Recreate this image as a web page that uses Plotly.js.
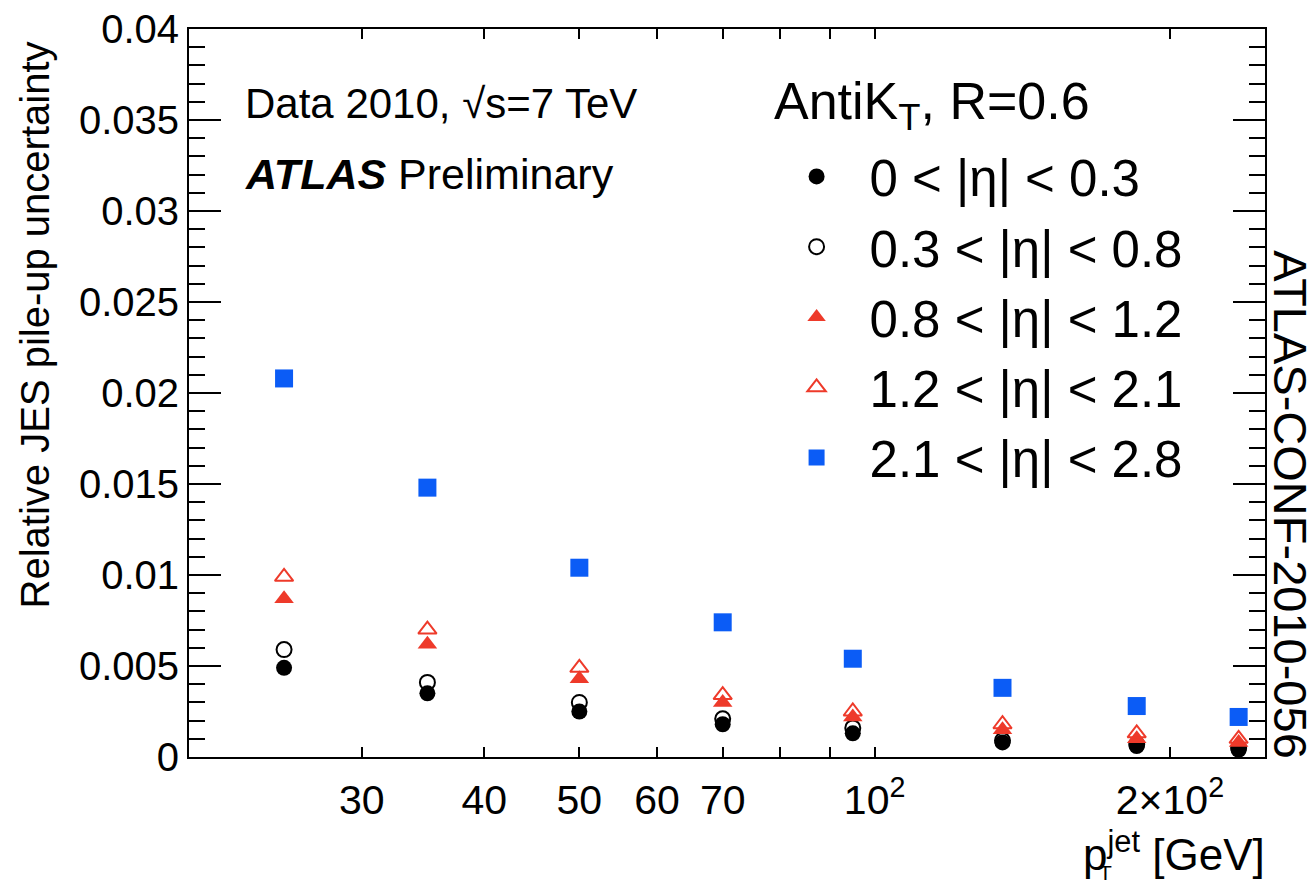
<!DOCTYPE html>
<html>
<head>
<meta charset="utf-8">
<script src="https://cdn.plot.ly/plotly-3.0.1.min.js"></script>
<style>html,body{margin:0;padding:0;background:#fff;}#chart{width:1315px;height:883px;}</style>
</head>
<body>
<div id="chart"></div>
<script>
// Jet pT bin centres [GeV]
const ptJet = [25, 35, 50, 70, 95, 135, 185, 235];
// Relative JES pile-up uncertainty per |eta| bin
const eta0to03   = [0.0049, 0.0035, 0.0025, 0.0018, 0.0013, 0.0008, 0.0006, 0.0004];
const eta03to08  = [0.0059, 0.0041, 0.0030, 0.0021, 0.0016, 0.0009, 0.0007, 0.0005];
const eta08to12  = [0.0087, 0.0062, 0.0043, 0.0030, 0.0022, 0.0015, 0.0010, 0.0008];
const eta12to21  = [0.0099, 0.0070, 0.0049, 0.0034, 0.0025, 0.0018, 0.0013, 0.0010];
const eta21to28  = [0.0208, 0.0148, 0.0104, 0.0074, 0.0054, 0.0038, 0.0028, 0.0022];
const seriesNames = ["0 < |η| < 0.3", "0.3 < |η| < 0.8", "0.8 < |η| < 1.2", "1.2 < |η| < 2.1", "2.1 < |η| < 2.8"];
const xTickVals = [30, 40, 50, 60, 70, 80, 90, 100, 200];
const xTickText = ["30", "40", "50", "60", "70", "", "", "10<sup>2</sup>", "2×10<sup>2</sup>"];

const FONT = "Liberation Sans, Arial, Helvetica, sans-serif";
const RED = "#ee3a2a";
const BLUE = "#0b5cf6";

function tr(y, name, symbol, color, size, lw, grp) {
  return {
    x: ptJet, y: y, name: name, type: "scatter", mode: "markers",
    legendgroup: grp,
    marker: {symbol: symbol, color: color, size: size, line: {color: color, width: lw}},
    cliponaxis: false
  };
}

const data = [
  tr(eta0to03,  seriesNames[0], "circle",           "#000000", 16, 0, "a"),
  tr(eta03to08, seriesNames[1], "circle-open",      "#000000", 15, 2, "b"),
  tr(eta08to12, seriesNames[2], "triangle-up",      RED,       17, 0, "c"),
  tr(eta12to21, seriesNames[3], "triangle-up-open", RED,       16, 2, "d"),
  tr(eta21to28, seriesNames[4], "square",           BLUE,      18, 0, "e")
];

const xr = [Math.log10(20), Math.log10(250)];

const layout = {
  width: 1315, height: 883,
  margin: {l: 189, r: 50, t: 29, b: 126},
  paper_bgcolor: "#ffffff", plot_bgcolor: "#ffffff",
  font: {family: FONT, color: "#000000", size: 40},
  showlegend: true,
  legend: {
    x: 0.534, y: 0.852, xanchor: "left", yanchor: "top",
    bgcolor: "rgba(0,0,0,0)", borderwidth: 0,
    font: {family: FONT, size: 51, color: "#000"},
    itemwidth: 96, traceorder: "grouped", tracegroupgap: 1,
    itemsizing: "trace"
  },
  xaxis: {
    type: "log", range: xr,
    tickmode: "array", tickvals: xTickVals, ticktext: xTickText,
    ticks: "inside", ticklen: 10, tickwidth: 2, tickcolor: "#000",
    showline: true, linecolor: "#000", linewidth: 2, mirror: "ticks",
    showgrid: false, zeroline: false,
    tickfont: {family: FONT, size: 41, color: "#000"},
    ticklabelstandoff: 6
  },
  xaxis2: {
    type: "log", range: xr, overlaying: "x", anchor: "y",
    tickmode: "array", tickvals: [100], ticktext: [""],
    ticks: "inside", ticklen: 20, tickwidth: 2, tickcolor: "#000",
    showline: false, mirror: "ticks", showgrid: false, zeroline: false,
    showticklabels: false
  },
  yaxis: {
    range: [0, 0.04], tick0: 0, dtick: 0.005,
    ticks: "inside", ticklen: 32, tickwidth: 2, tickcolor: "#000",
    minor: {dtick: 0.001, ticks: "inside", ticklen: 16, tickwidth: 2, tickcolor: "#000"},
    showline: true, linecolor: "#000", linewidth: 2, mirror: "ticks",
    showgrid: false, zeroline: false,
    tickfont: {family: FONT, size: 40, color: "#000"}
  },
  annotations: [
    {xref: "paper", yref: "paper", x: -0.143, y: 0.593, textangle: -90,
     text: "Relative JES pile-up uncertainty", showarrow: false,
     font: {family: FONT, size: 40, color: "#000"}, xanchor: "center", yanchor: "middle"},
    {xref: "paper", yref: "paper", x: 0.05, y: 0.898, xanchor: "left", yanchor: "middle",
     text: "Data 2010, √s=7 TeV", showarrow: false, font: {family: FONT, size: 42, color: "#000"}},
    {xref: "paper", yref: "paper", x: 0.05, y: 0.801, xanchor: "left", yanchor: "middle",
     text: "<b><i>ATLAS</i></b> Preliminary", showarrow: false, font: {family: FONT, size: 43, color: "#000"}},
    {xref: "paper", yref: "paper", x: (772 - 189) / 1076, y: (757 - 105) / 728, xanchor: "left", yanchor: "middle",
     text: "AntiK<sub>T</sub>, R=0.6", showarrow: false, font: {family: FONT, size: 52, color: "#000"}},
    {xref: "paper", yref: "paper", x: 1.024, y: 0.346, textangle: 90, xanchor: "center", yanchor: "middle",
     text: "ATLAS-CONF-2010-056", showarrow: false, font: {family: FONT, size: 47, color: "#000"}},
    {xref: "paper", yref: "paper", x: 1.002, y: -0.13, xanchor: "right", yanchor: "middle",
     text: "p<sup>jet</sup> [GeV]", showarrow: false, font: {family: FONT, size: 44, color: "#000"}},
    {xref: "paper", yref: "paper", x: (1105 - 189) / 1076, y: (757 - 873) / 728, xanchor: "center", yanchor: "middle",
     text: "T", showarrow: false, font: {family: FONT, size: 21, color: "#000"}}
  ]
};

Plotly.newPlot("chart", data, layout, {staticPlot: true, displayModeBar: false});
</script>
</body>
</html>
